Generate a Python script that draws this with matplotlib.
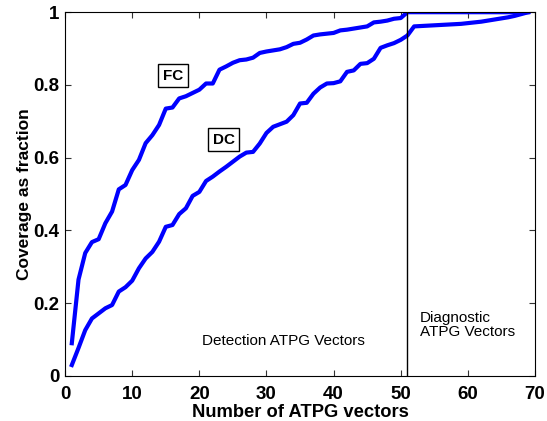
import matplotlib
matplotlib.use("Agg")
import matplotlib.pyplot as plt

# vector index
vectors = list(range(1, 70))

# fault coverage (FC)
fc = [0.09, 0.265, 0.338, 0.368, 0.376, 0.42, 0.452, 0.513, 0.525, 0.566,
      0.594, 0.64, 0.662, 0.69, 0.735, 0.738, 0.763, 0.769, 0.778, 0.787,
      0.804, 0.804, 0.842, 0.851, 0.861, 0.868, 0.87, 0.875, 0.888, 0.892,
      0.895, 0.898, 0.904, 0.913, 0.916, 0.925, 0.936, 0.939, 0.941, 0.943,
      0.95, 0.952, 0.955, 0.958, 0.961, 0.972, 0.974, 0.977, 0.982, 0.984,
      1.0] + [1.0] * 18

# diagnostic coverage (DC)
dc = [0.03, 0.077, 0.126, 0.158, 0.172, 0.186, 0.195, 0.232, 0.244, 0.262,
      0.296, 0.323, 0.341, 0.369, 0.41, 0.415, 0.445, 0.461, 0.495, 0.506,
      0.536, 0.548, 0.562, 0.575, 0.589, 0.603, 0.614, 0.616, 0.639, 0.668,
      0.685, 0.692, 0.699, 0.717, 0.749, 0.751, 0.776, 0.793, 0.804, 0.805,
      0.81, 0.836, 0.84, 0.858, 0.86, 0.872, 0.902, 0.909, 0.915, 0.924,
      0.936, 0.961, 0.962, 0.963, 0.964, 0.965, 0.966, 0.967, 0.968, 0.970,
      0.972, 0.974, 0.977, 0.980, 0.983, 0.986, 0.990, 0.995, 1.0]

split_at = 51

plt.rcParams["font.family"] = ["Liberation Sans", "DejaVu Sans"]

fig = plt.figure(figsize=(5.47, 4.21), dpi=100)
ax = fig.add_axes([0.119, 0.107, 0.859, 0.864])

ax.plot(vectors, fc, color="#0000ff", linewidth=3)
ax.plot(vectors, dc, color="#0000ff", linewidth=3)
ax.axvline(split_at, color="black", linewidth=1)

box = dict(boxstyle="square,pad=0.3", facecolor="white", edgecolor="black", linewidth=1)
ax.text(16.1, 0.826, "FC", ha="center", va="center", fontsize=11, fontweight="bold", bbox=box)
ax.text(23.6, 0.65, "DC", ha="center", va="center", fontsize=11, fontweight="bold", bbox=box)
ax.text(32.5, 0.096, "Detection ATPG Vectors", ha="center", va="center", fontsize=11)
ax.text(52.8, 0.14, "Diagnostic\nATPG Vectors", ha="left", va="center", fontsize=11,
        linespacing=1.05)

ax.set_xlim(0, 70)
ax.set_ylim(0, 1)
ax.set_xticks(range(0, 71, 10))
ax.set_yticks([0, 0.2, 0.4, 0.6, 0.8, 1])
ax.set_yticklabels(["0", "0.2", "0.4", "0.6", "0.8", "1"])
ax.tick_params(direction="in", top=True, right=True, length=4, labelsize=13.5,
               color="#333333")
ax.tick_params(axis="x", pad=7)
ax.tick_params(axis="y", pad=4)
for lbl in ax.get_xticklabels() + ax.get_yticklabels():
    lbl.set_fontweight("bold")
ax.set_xlabel("Number of ATPG vectors", fontsize=13.2, fontweight="bold", labelpad=1)
ax.set_ylabel("Coverage as fraction", fontsize=12.5, fontweight="bold", labelpad=1)

fig.savefig("out.png", dpi=100)
